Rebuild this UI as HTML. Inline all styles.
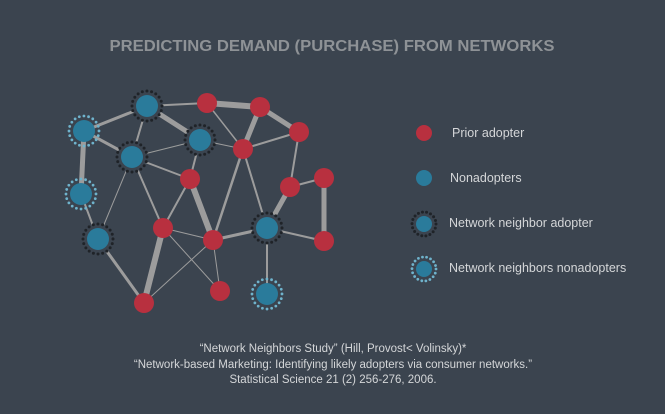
<!DOCTYPE html>
<html><head><meta charset="utf-8"><style>
html,body{margin:0;padding:0;background:#3b444f;}
svg{display:block}
</style></head><body>
<svg width="665" height="414" viewBox="0 0 665 414" xmlns="http://www.w3.org/2000/svg">
<rect width="665" height="414" fill="#3b444f"/>
<text x="332" y="51" text-anchor="middle" font-family="Liberation Sans, sans-serif" font-weight="bold" font-size="15.5" fill="#8e9296" textLength="445" lengthAdjust="spacingAndGlyphs">PREDICTING DEMAND (PURCHASE) FROM NETWORKS</text>
<g stroke="#9c9c9c" stroke-linecap="round">
<line x1="147" y1="106" x2="207" y2="103" stroke-width="2"/>
<line x1="207" y1="103" x2="260" y2="107" stroke-width="6"/>
<line x1="260" y1="107" x2="299" y2="132" stroke-width="5"/>
<line x1="147" y1="106" x2="84" y2="131" stroke-width="3"/>
<line x1="147" y1="106" x2="132" y2="157" stroke-width="2"/>
<line x1="147" y1="106" x2="200" y2="140" stroke-width="5"/>
<line x1="84" y1="131" x2="132" y2="157" stroke-width="3"/>
<line x1="84" y1="131" x2="81" y2="194" stroke-width="5"/>
<line x1="207" y1="103" x2="243" y2="149" stroke-width="1.5"/>
<line x1="260" y1="107" x2="243" y2="149" stroke-width="5"/>
<line x1="243" y1="149" x2="299" y2="132" stroke-width="2"/>
<line x1="200" y1="140" x2="243" y2="149" stroke-width="1"/>
<line x1="132" y1="157" x2="200" y2="140" stroke-width="1"/>
<line x1="132" y1="157" x2="190" y2="179" stroke-width="2"/>
<line x1="200" y1="140" x2="190" y2="179" stroke-width="2"/>
<line x1="299" y1="132" x2="290" y2="187" stroke-width="2"/>
<line x1="290" y1="187" x2="324" y2="178" stroke-width="2"/>
<line x1="324" y1="178" x2="324" y2="241" stroke-width="5"/>
<line x1="290" y1="187" x2="267" y2="228" stroke-width="5"/>
<line x1="267" y1="228" x2="324" y2="241" stroke-width="2"/>
<line x1="243" y1="149" x2="213" y2="240" stroke-width="2.5"/>
<line x1="243" y1="149" x2="267" y2="228" stroke-width="2"/>
<line x1="190" y1="179" x2="163" y2="228" stroke-width="2"/>
<line x1="190" y1="179" x2="213" y2="240" stroke-width="6"/>
<line x1="163" y1="228" x2="213" y2="240" stroke-width="1"/>
<line x1="213" y1="240" x2="267" y2="228" stroke-width="3"/>
<line x1="132" y1="157" x2="163" y2="228" stroke-width="2"/>
<line x1="132" y1="157" x2="98" y2="239" stroke-width="1"/>
<line x1="81" y1="194" x2="98" y2="239" stroke-width="2"/>
<line x1="98" y1="239" x2="144" y2="303" stroke-width="3"/>
<line x1="163" y1="228" x2="144" y2="303" stroke-width="6"/>
<line x1="163" y1="228" x2="220" y2="291" stroke-width="1"/>
<line x1="213" y1="240" x2="220" y2="291" stroke-width="1"/>
<line x1="213" y1="240" x2="144" y2="303" stroke-width="1"/>
<line x1="267" y1="228" x2="267" y2="294" stroke-width="2"/>
</g>
<g fill="#b8303f">
<circle cx="207" cy="103" r="10"/><circle cx="260" cy="107" r="10"/><circle cx="299" cy="132" r="10"/>
<circle cx="243" cy="149" r="10"/><circle cx="190" cy="179" r="10"/><circle cx="290" cy="187" r="10"/>
<circle cx="324" cy="178" r="10"/><circle cx="163" cy="228" r="10"/><circle cx="213" cy="240" r="10"/>
<circle cx="324" cy="241" r="10"/><circle cx="144" cy="303" r="10"/><circle cx="220" cy="291" r="10"/>
</g>
<g fill="#3b444f" stroke="#1f2328" stroke-width="3" stroke-dasharray="0 4.7" stroke-linecap="round">
<circle cx="147" cy="106" r="15"/>
<circle cx="132" cy="157" r="15"/>
<circle cx="200" cy="140" r="15"/>
<circle cx="98" cy="239" r="15"/>
<circle cx="267" cy="228" r="15"/>
<circle cx="424" cy="224" r="12" stroke-dasharray="0 4.2"/>
</g>
<g fill="none" stroke="#6fb3cc" stroke-width="2.8" stroke-dasharray="0 4.7" stroke-linecap="round">
<circle cx="84" cy="131" r="15"/><circle cx="81" cy="194" r="15"/><circle cx="267" cy="294" r="15"/>
<circle cx="424" cy="269" r="12" stroke-dasharray="0 4.2"/>
</g>
<g fill="#2a7b9b">
<circle cx="147" cy="106" r="11"/><circle cx="132" cy="157" r="11"/><circle cx="200" cy="140" r="11"/>
<circle cx="98" cy="239" r="11"/><circle cx="267" cy="228" r="11"/>
<circle cx="84" cy="131" r="11"/><circle cx="81" cy="194" r="11"/><circle cx="267" cy="294" r="11"/>
<circle cx="424" cy="178" r="8"/><circle cx="424" cy="224" r="8"/><circle cx="424" cy="269" r="8"/>
</g>
<circle cx="424" cy="133" r="8" fill="#b8303f"/>
<g font-family="Liberation Sans, sans-serif" font-size="12.5" fill="#d4d6d8">
<text x="452" y="137">Prior adopter</text>
<text x="450" y="182">Nonadopters</text>
<text x="449" y="227">Network neighbor adopter</text>
<text x="449" y="272">Network neighbors nonadopters</text>
</g>
<g font-family="Liberation Sans, sans-serif" font-size="11.5" fill="#d4d6d8" text-anchor="middle">
<text x="333" y="352">“Network Neighbors Study” (Hill, Provost&lt; Volinsky)*</text>
<text x="333" y="368">“Network-based Marketing: Identifying likely adopters via consumer networks.”</text>
<text x="333" y="383">Statistical Science 21 (2) 256-276, 2006.</text>
</g>
</svg>
</body></html>
